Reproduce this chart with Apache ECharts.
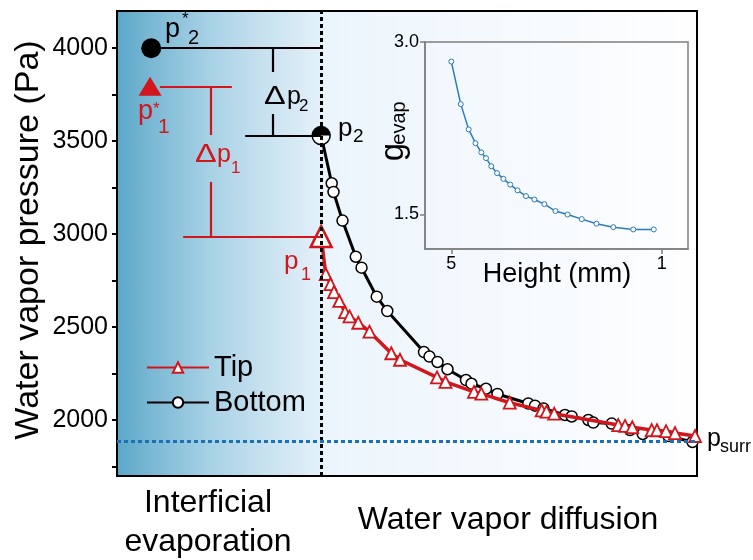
<!DOCTYPE html>
<html><head><meta charset="utf-8">
<script src="https://cdn.jsdelivr.net/npm/echarts@6/dist/echarts.min.js"></script>
<style>html,body{margin:0;padding:0;background:#fff}#c{width:753px;height:560px}</style>
</head><body><div id="c"></div>
<script>
// ---------- data ----------
const bottomX = [35.2, 37.02, 37.33, 38.88, 41.17, 42.16, 44.78, 46.60, 52.93, 53.88, 55.26, 56.98, 60.17, 61.12, 63.62, 65.60, 70.91, 72.07, 73.53, 77.24, 78.40, 81.26, 82.12, 85.29, 88.45, 90.64, 95.05, 99.22];
const bottomY = [3530, 3274, 3227, 3073, 2879, 2820, 2664, 2587, 2366, 2342, 2313, 2274, 2216, 2196, 2169, 2141, 2090, 2078, 2063, 2028, 2020, 2001, 1987, 1982, 1947, 1926, 1915, 1883];
const tipX = [35.2, 35.98, 36.81, 37.41, 38.33, 39.31, 40.09, 41.60, 43.53, 47.29, 48.79, 55.17, 56.64, 61.55, 62.81, 67.71, 73.22, 74.05, 75.38, 86.43, 87.59, 88.84, 92.19, 93.10, 94.66, 96.21, 99.66];
const tipY = [2987, 2786, 2732, 2689, 2641, 2581, 2558, 2524, 2476, 2360, 2325, 2230, 2206, 2152, 2143, 2094, 2053, 2046, 2035, 1974, 1969, 1962, 1947, 1946, 1941, 1931, 1915];
const yTickLabels = [2000, 2500, 3000, 3500, 4000];
const yAllTicks = [1750, 2000, 2250, 2500, 2750, 3000, 3250, 3500, 3750, 4000];
const interfaceX = 35.2;
const pSurr = 1888;
const p2Star = [5.9, 4000];
const p1Star = [5.7, 3795];
const blackBrackets = [[[7.6, 4000], [35.2, 4000]], [[26.9, 4000], [26.9, 3872]], [[26.9, 3646], [26.9, 3530]], [[22.1, 3530], [35.2, 3530]]];
const redBrackets = [[[7.4, 3795], [19.8, 3795]], [[16.2, 3795], [16.2, 3533]], [[16.2, 3281], [16.2, 2987]], [[11.4, 2987], [35.2, 2987]]];
const heightMM = [5.0, 4.82, 4.67, 4.54, 4.43, 4.34, 4.24, 4.13, 4.01, 3.88, 3.74, 3.58, 3.42, 3.23, 3.02, 2.79, 2.52, 2.24, 1.92, 1.54, 1.15];
const gEvap = [2.83, 2.46, 2.24, 2.12, 2.04, 1.99, 1.92, 1.86, 1.81, 1.76, 1.71, 1.66, 1.63, 1.59, 1.53, 1.50, 1.46, 1.42, 1.39, 1.37, 1.37];
const insetXTicks = [5, 1];
const insetYTicks = [1.5, 3.0];

// ---------- style ----------
const FONT = 'Liberation Sans';
const RED = '#d2161b';
const BLUE = '#1c70b6';
const INSET = '#2b7bba';

function txt(text, x, y, size, color, align, rot, sx) {
  return {
    type: 'text', x: x, y: y, rotation: rot || 0, scaleX: sx || 1, z: 100,
    style: {
      text: text, fill: color || '#000', font: size + 'px "' + FONT + '"',
      textAlign: align || 'left', textVerticalAlign: 'middle',
      align: align || 'left', verticalAlign: 'middle'
    }
  };
}

const chart = echarts.init(document.getElementById('c'));

const bottomData = bottomX.map((x, i) => i === 0 ? { value: [x, bottomY[i]], symbolSize: 18 } : [x, bottomY[i]]);
const tipData = tipX.map((x, i) => i === 0 ? { value: [x, tipY[i]], symbolSize: 21, itemStyle: { borderWidth: 2.5 } } : [x, tipY[i]]);

const bracketLines = [];
blackBrackets.forEach(s => bracketLines.push([{ coord: s[0], lineStyle: { color: '#000', width: 2.2, type: 'solid' } }, { coord: s[1] }]));
redBrackets.forEach(s => bracketLines.push([{ coord: s[0], lineStyle: { color: RED, width: 2.2, type: 'solid' } }, { coord: s[1] }]));

const option = {
  animation: false,
  backgroundColor: '#fff',
  textStyle: { fontFamily: FONT },
  grid: [
    {
      left: 117, right: 56, top: 11, bottom: 84, show: true,
      borderColor: '#000', borderWidth: 2,
      backgroundColor: {
        type: 'linear', x: 0, y: 0, x2: 1, y2: 0,
        colorStops: [
          { offset: 0, color: '#5aa6c8' }, { offset: 0.06, color: '#7ab8d4' },
          { offset: 0.16, color: '#a7d1e5' }, { offset: 0.26, color: '#c9e2f0' },
          { offset: 0.35, color: '#e3f0f9' }, { offset: 0.36, color: '#ecf5fc' },
          { offset: 0.7, color: '#f6fafe' }, { offset: 1, color: '#fefeff' }
        ]
      }
    },
    { left: 425, top: 42, width: 263, height: 207, show: true, borderColor: '#7f7f7f', borderWidth: 1.5, backgroundColor: 'transparent' }
  ],
  xAxis: [
    { gridIndex: 0, type: 'value', min: 0, max: 100, axisLabel: { show: false }, axisTick: { show: false }, splitLine: { show: false }, axisLine: { lineStyle: { color: '#000', width: 2 } } },
    {
      gridIndex: 1, type: 'value', min: 0.5, max: 5.5, inverse: true,
      axisLine: { lineStyle: { color: '#7f7f7f', width: 1.5 } },
      axisTick: { customValues: insetXTicks, length: 5, lineStyle: { color: '#7f7f7f', width: 1.5 } },
      axisLabel: { customValues: insetXTicks, formatter: v => String(v), color: '#000', fontSize: 18, fontFamily: FONT, margin: 6 },
      splitLine: { show: false }
    }
  ],
  yAxis: [
    {
      gridIndex: 0, type: 'value', min: 1700, max: 4200,
      axisLine: { show: true, lineStyle: { color: '#000', width: 2 } },
      axisTick: { show: true, customValues: yAllTicks, length: 5, lineStyle: { color: '#000', width: 2 } },
      axisLabel: { customValues: yTickLabels, formatter: v => String(v), color: '#000', fontSize: 25, fontFamily: FONT, margin: 9 },
      splitLine: { show: false }
    },
    {
      gridIndex: 1, type: 'value', min: 1.2, max: 3.0,
      axisLine: { show: true, lineStyle: { color: '#7f7f7f', width: 1.5 } },
      axisTick: { show: true, customValues: insetYTicks, length: 5, lineStyle: { color: '#7f7f7f', width: 1.5 } },
      axisLabel: { customValues: insetYTicks, formatter: v => v.toFixed(1), color: '#000', fontSize: 18, fontFamily: FONT, margin: 6 },
      splitLine: { show: false }
    }
  ],
  legend: {
    data: ['Tip', 'Bottom'], orient: 'vertical', left: 141, top: 348,
    itemWidth: 62, itemHeight: 13, itemGap: 6,
    textStyle: { fontSize: 29, color: '#000', fontFamily: FONT }
  },
  series: [
    {
      name: 'Bottom', type: 'line', xAxisIndex: 0, yAxisIndex: 0, z: 3,
      data: bottomData, symbol: 'circle', symbolSize: 11,
      lineStyle: { color: '#000', width: 3 },
      itemStyle: { color: '#fff', borderColor: '#000', borderWidth: 1.5 }
    },
    {
      name: 'Tip', type: 'line', xAxisIndex: 0, yAxisIndex: 0, z: 4,
      data: tipData, symbol: 'triangle', symbolSize: 12,
      lineStyle: { color: RED, width: 3.5 },
      itemStyle: { color: '#fff', borderColor: RED, borderWidth: 1.8 }
    },
    {
      name: 'p2half', type: 'scatter', xAxisIndex: 0, yAxisIndex: 0, z: 6,
      data: [[bottomX[0], bottomY[0]]],
      symbol: 'path://M0 10 A10 10 0 0 1 20 10 Z', symbolSize: [18, 9], symbolOffset: [0, -4.5],
      itemStyle: { color: '#000', opacity: 1 }
    },
    {
      name: 'p2star', type: 'scatter', xAxisIndex: 0, yAxisIndex: 0, z: 6,
      data: [p2Star], symbol: 'circle', symbolSize: 20, itemStyle: { color: '#000', opacity: 1 }
    },
    {
      name: 'p1star', type: 'scatter', xAxisIndex: 0, yAxisIndex: 0, z: 6,
      data: [p1Star], symbol: 'triangle', symbolSize: [23, 19], itemStyle: { color: RED, opacity: 1 }
    },
    {
      name: 'guides', type: 'line', xAxisIndex: 0, yAxisIndex: 0, z: 5, data: [],
      markLine: {
        silent: true, symbol: 'none', label: { show: false },
        data: [
          { xAxis: interfaceX, lineStyle: { color: '#000', width: 3, type: [4, 3] } },
          { yAxis: pSurr, lineStyle: { color: BLUE, width: 3, type: [4, 3] } }
        ].concat(bracketLines)
      }
    },
    {
      name: 'inset', type: 'line', xAxisIndex: 1, yAxisIndex: 1, z: 5,
      data: heightMM.map((h, i) => [h, gEvap[i]]),
      symbol: 'circle', symbolSize: 5,
      lineStyle: { color: INSET, width: 1.5 },
      itemStyle: { color: '#fff', borderColor: INSET, borderWidth: 1 }
    }
  ],
  graphic: [
    txt('Water vapor pressure (Pa)', 29, 240, 34, '#000', 'center', Math.PI / 2),
    txt('Interficial', 208, 503, 32, '#000', 'center'),
    txt('evaporation', 208, 542, 32, '#000', 'center'),
    txt('Water vapor diffusion', 508, 520, 32, '#000', 'center'),
    // p2*
    txt('p', 165, 30, 27), txt('*', 182, 19, 17), txt('2', 188, 38, 20),
    // delta p2
    txt('Δ', 264, 97, 25, '#000', 'left', 0, 1.3), txt('p', 287, 97, 25), txt('2', 299, 106, 17),
    // p2
    txt('p', 338, 129, 26), txt('2', 353, 137, 19),
    // p1*
    txt('p', 138, 112, 27, RED), txt('*', 153, 109, 17, RED), txt('1', 158, 127, 21, RED),
    // delta p1
    txt('Δ', 195, 155, 25, RED, 'left', 0, 1.3), txt('p', 217, 155, 25, RED), txt('1', 231, 168, 17, RED),
    // p1
    txt('p', 284, 262, 26, RED), txt('1', 301, 275, 18, RED),
    // psurr
    txt('p', 707, 439, 25), txt('surr', 720, 447, 18),
    // inset labels
    txt('Height (mm)', 557, 275, 27, '#000', 'center'),
    txt('g', 393.5, 152, 33, '#000', 'center', Math.PI / 2),
    txt('evap', 399, 123, 20, '#000', 'center', Math.PI / 2)
  ]
};
chart.setOption(option);
</script>
</body></html>
